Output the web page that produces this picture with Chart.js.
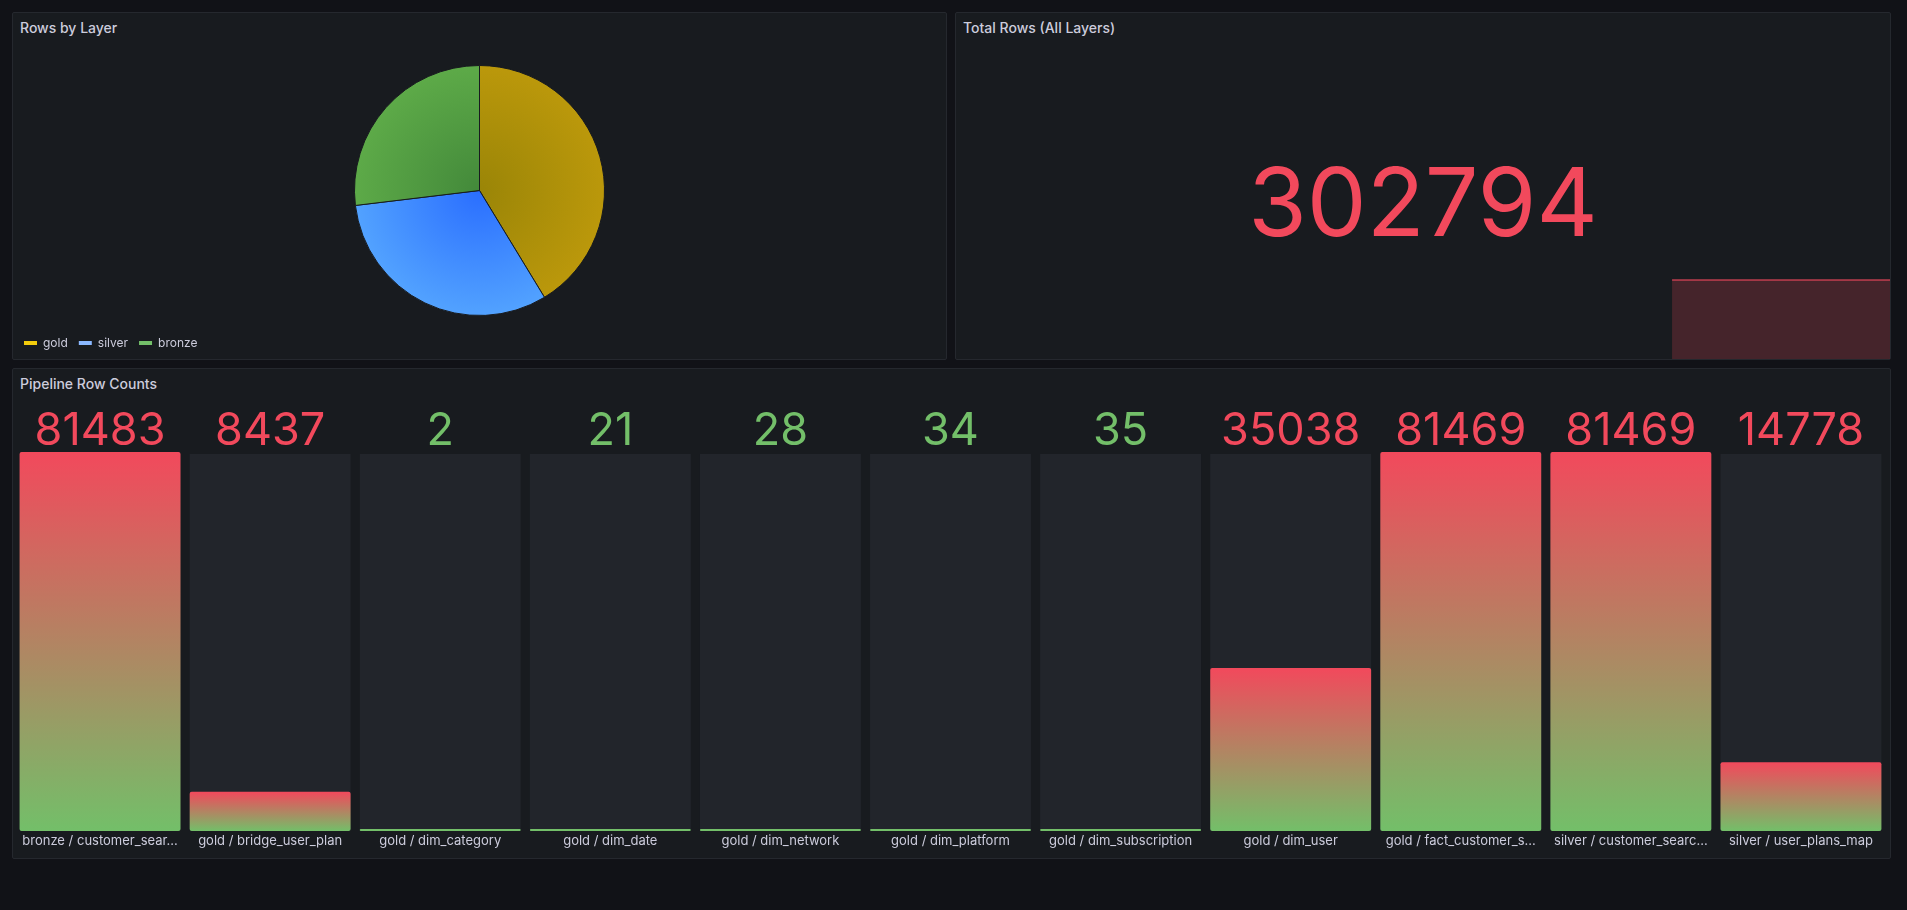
<!DOCTYPE html>
<html><head><meta charset="utf-8">
<script src="https://cdn.jsdelivr.net/npm/chart.js@4.4.1/dist/chart.umd.min.js"></script>
<style>
html,body{margin:0;padding:0;background:#111217;width:1907px;height:910px;overflow:hidden;font-family:Inter,"Noto Sans",sans-serif;}
.panel{position:absolute;background:#181b1f;border:1px solid #25282e;box-sizing:border-box;border-radius:2px;}
.title{position:absolute;font-size:14px;font-weight:500;color:#ccccdc;line-height:14px;white-space:nowrap;}
.big{position:absolute;font-size:95px;line-height:95px;color:#f2495c;text-align:center;white-space:nowrap;}
canvas{position:absolute;}
</style></head><body>
<div class="panel" style="left:12px;top:12px;width:935px;height:348px"></div>
<div class="panel" style="left:955px;top:12px;width:936px;height:348px"></div>
<div class="panel" style="left:12px;top:368px;width:1879px;height:491px"></div>
<div class="title" style="left:20px;top:21px">Rows by Layer</div>
<div class="title" style="left:963px;top:21px">Total Rows (All Layers)</div>
<div class="title" style="left:20px;top:377px">Pipeline Row Counts</div>
<canvas id="pie" width="933" height="323" style="left:13px;top:36px"></canvas>
<canvas id="spark" width="934" height="81" style="left:956px;top:278px"></canvas>
<div class="big" id="total" style="left:955px;width:936px;top:154px"></div>
<canvas id="bars" width="1877" height="463" style="left:13px;top:395px"></canvas>
<script>
// ---- data ----
const layerLabels = ['gold', 'silver', 'bronze'];
const layerRows = [125064, 96247, 81483];
const totalRows = 302794;
const sparkTimes = [-1.4, 0];          // hours relative to now (range: last 6h)
const sparkValues = [302794, 302794];
const tableLabels = ['bronze / customer_sear...', 'gold / bridge_user_plan', 'gold / dim_category', 'gold / dim_date',
  'gold / dim_network', 'gold / dim_platform', 'gold / dim_subscription', 'gold / dim_user',
  'gold / fact_customer_s...', 'silver / customer_searc...', 'silver / user_plans_map'];
const tableRows = [81483, 8437, 2, 21, 28, 34, 35, 35038, 81469, 81469, 14778];
const thresholds = [80];

// ---- styles ----
const RED = '#f2495c', GREEN = '#73bf69';
const pieCenter = ['#9a8507', '#2a6eff', '#43893a'];
const pieEdge = ['#bb980b', '#52a2ff', '#5daa48'];
const legendColors = ['#f2cc0c', '#8ab8ff', '#73bf69'];

Chart.defaults.font.family = 'Inter, "Noto Sans", sans-serif';
Chart.defaults.animation = false;

document.getElementById('total').textContent = String(totalRows);

new Chart(document.getElementById('pie'), {
  type: 'pie',
  data: { labels: layerLabels, datasets: [{
    data: layerRows,
    borderColor: '#181b1f', borderWidth: 1,
    backgroundColor: (c) => {
      const a = c.chart.chartArea; const i = c.dataIndex;
      if (!a) return pieEdge[i];
      const cx = (a.left + a.right) / 2, cy = (a.top + a.bottom) / 2;
      const g = c.chart.ctx.createRadialGradient(cx, cy, 0, cx, cy, 125);
      g.addColorStop(0, pieCenter[i]); g.addColorStop(1, pieEdge[i]);
      return g;
    }
  }]},
  options: {
    responsive: false, radius: 125,
    layout: { padding: { top: 19 } },
    plugins: {
      tooltip: { enabled: false },
      legend: { position: 'bottom', align: 'start',
        labels: { color: '#ccccdc', font: { size: 12 }, boxWidth: 13, boxHeight: 4, padding: 11,
          useBorderRadius: true, borderRadius: 2,
          generateLabels: (chart) => layerLabels.map((l, i) => ({ text: l, fillStyle: legendColors[i], strokeStyle: legendColors[i], lineWidth: 0, index: i, fontColor: '#ccccdc' })) } }
    }
  }
});

new Chart(document.getElementById('spark'), {
  type: 'line',
  data: { datasets: [{ data: sparkTimes.map((t, i) => ({ x: t, y: sparkValues[i] })),
    fill: 'start', borderColor: 'rgba(242,73,92,0.55)', backgroundColor: 'rgba(242,73,92,0.21)',
    borderWidth: 2, pointRadius: 0, tension: 0 }] },
  options: { responsive: false, layout: { padding: 0 },
    plugins: { legend: { display: false }, tooltip: { enabled: false } },
    scales: { x: { type: 'linear', min: -6, max: 0, display: false },
              y: { min: 0, max: Math.max(...sparkValues) * 1.025, display: false } } }
});

const barDecor = {
  id: 'barDecor',
  beforeDatasetsDraw(chart) {
    const { ctx, chartArea: a } = chart; const meta = chart.getDatasetMeta(0);
    ctx.save(); ctx.fillStyle = '#22252b';
    meta.data.forEach(el => { ctx.fillRect(el.x - el.width / 2, a.top + 2, el.width, a.bottom - a.top - 3); });
    ctx.restore();
  },
  afterDatasetsDraw(chart) {
    const { ctx, chartArea: a } = chart; const meta = chart.getDatasetMeta(0);
    ctx.save(); ctx.font = '45px Inter'; ctx.textAlign = 'center'; ctx.textBaseline = 'alphabetic';
    meta.data.forEach((el, i) => {
      const v = tableRows[i];
      ctx.fillStyle = v >= thresholds[0] ? RED : GREEN;
      ctx.fillText(String(v), el.x, a.top - 7);
    });
    ctx.restore();
  }
};

new Chart(document.getElementById('bars'), {
  type: 'bar',
  data: { labels: tableLabels, datasets: [{
    data: tableRows, minBarLength: 2, borderRadius: 2, borderSkipped: false,
    barPercentage: 0.946, categoryPercentage: 1,
    backgroundColor: (c) => {
      const ch = c.chart; const a = ch.chartArea;
      if (!a || !c.parsed) return GREEN;
      const y = ch.scales.y;
      const top = y.getPixelForValue(c.parsed.y), base = y.getPixelForValue(0);
      if (base - top < 5) return GREEN;
      const g = ch.ctx.createLinearGradient(0, top, 0, base);
      g.addColorStop(0, RED); g.addColorStop(1, GREEN);
      return g;
    }
  }]},
  options: {
    responsive: false,
    layout: { padding: { left: 2, right: 4, top: 57, bottom: 0 } },
    plugins: { legend: { display: false }, tooltip: { enabled: false } },
    scales: {
      x: { grid: { display: false, drawTicks: false }, border: { display: false },
        ticks: { color: '#ccccdc', font: { size: 13 }, padding: 2, autoSkip: false, maxRotation: 0 },
        afterFit: (s) => { s.height = 27; } },
      y: { display: false, min: 0, max: Math.max(...tableRows) }
    }
  },
  plugins: [barDecor]
});
</script>
</body></html>
